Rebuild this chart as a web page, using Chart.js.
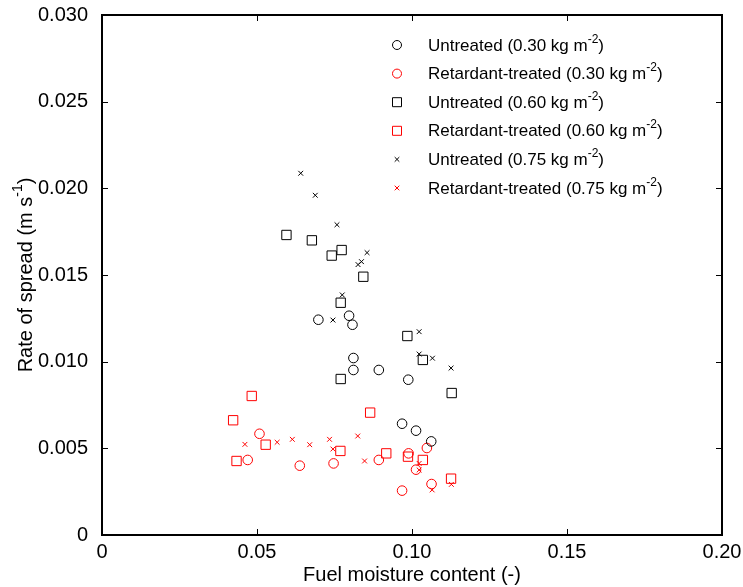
<!DOCTYPE html>
<html>
<head>
<meta charset="utf-8">
<script src="https://cdn.jsdelivr.net/npm/chart.js@4.4.1/dist/chart.umd.min.js"></script>
<style>
  body { margin: 0; background: #fff; }
  #wrap { width: 743px; height: 587px; }
</style>
</head>
<body>
<div id="wrap"><canvas id="chart" width="743" height="587"></canvas></div>
<script>
const seriesNames = [
    'Untreated (0.30 kg m^-2)',
    'Retardant-treated (0.30 kg m^-2)',
    'Untreated (0.60 kg m^-2)',
    'Retardant-treated (0.60 kg m^-2)',
    'Untreated (0.75 kg m^-2)',
    'Retardant-treated (0.75 kg m^-2)'
];
const xTitle = 'Fuel moisture content (-)';
const yTitle = 'Rate of spread (m s^-1)';
const xTicks = [0, 0.05, 0.10, 0.15, 0.20];
const yTicks = [0, 0.005, 0.010, 0.015, 0.020, 0.025, 0.030];

// moisture content (x) and rate of spread (y)
const untreated30X = [0.0698, 0.0797, 0.0808, 0.0811, 0.0811, 0.0893, 0.0988, 0.0968, 0.1013, 0.1062];
const untreated30Y = [0.01242, 0.01265, 0.01213, 0.01021, 0.00952, 0.00952, 0.00896, 0.00642, 0.00602, 0.00540];

const retardant30X = [0.0638, 0.0747, 0.0893, 0.0989, 0.1048, 0.1013, 0.1063, 0.0968, 0.0508, 0.0470];
const retardant30Y = [0.00400, 0.00413, 0.00433, 0.00471, 0.00502, 0.00377, 0.00294, 0.00256, 0.00584, 0.00433];

const untreated60X = [0.0595, 0.0677, 0.0741, 0.0773, 0.0843, 0.0770, 0.0985, 0.1035, 0.0770, 0.1128];
const untreated60Y = [0.01731, 0.01700, 0.01612, 0.01644, 0.01490, 0.01340, 0.01148, 0.01010, 0.00900, 0.00819];

const retardant60X = [0.0483, 0.0423, 0.0528, 0.0434, 0.0865, 0.0769, 0.0917, 0.0987, 0.1035, 0.1126];
const retardant60Y = [0.00802, 0.00662, 0.00521, 0.00427, 0.00706, 0.00485, 0.00471, 0.00452, 0.00433, 0.00325];

const untreated75X = [0.0641, 0.0688, 0.0758, 0.0855, 0.0837, 0.0826, 0.0775, 0.0745, 0.1023, 0.1023, 0.1066, 0.1126];
const untreated75Y = [0.02087, 0.01960, 0.01790, 0.01629, 0.01577, 0.01560, 0.01385, 0.01240, 0.01173, 0.01044, 0.01020, 0.00963];

const retardant75X = [0.0461, 0.0565, 0.0614, 0.0670, 0.0734, 0.0745, 0.0825, 0.0847, 0.1023, 0.1023, 0.1065, 0.1127];
const retardant75Y = [0.00523, 0.00535, 0.00552, 0.00521, 0.00552, 0.00496, 0.00571, 0.00427, 0.00413, 0.00375, 0.00260, 0.00292];

const FONT = '"Liberation Sans", Arial, sans-serif';

function pts(xs, ys) {
    return xs.map((x, i) => ({ x: x, y: ys[i] }));
}

function makeSet(i, xs, ys, color, style, radius) {
    return {
        label: seriesNames[i],
        data: pts(xs, ys),
        pointStyle: style,
        pointRadius: radius,
        pointHoverRadius: radius,
        pointBorderColor: color,
        pointBackgroundColor: 'rgba(0,0,0,0)',
        pointBorderWidth: 1,
        showLine: false
    };
}

// text with "^-2" style superscripts
function richParts(text) {
    const parts = [];
    const re = /\^(-?\d+)/g;
    let last = 0, m;
    while ((m = re.exec(text)) !== null) {
        parts.push({ t: text.slice(last, m.index), sup: false });
        parts.push({ t: m[1], sup: true });
        last = re.lastIndex;
    }
    parts.push({ t: text.slice(last), sup: false });
    return parts;
}

function richWidth(ctx, text, size) {
    let w = 0;
    richParts(text).forEach(p => {
        ctx.font = (p.sup ? Math.round(size * 0.7) : size) + 'px ' + FONT;
        w += ctx.measureText(p.t).width;
    });
    return w;
}

function drawRich(ctx, text, x, y, size) {
    ctx.textAlign = 'left';
    ctx.textBaseline = 'middle';
    richParts(text).forEach(p => {
        ctx.font = (p.sup ? Math.round(size * 0.7) : size) + 'px ' + FONT;
        ctx.fillText(p.t, x, p.sup ? y - size * 0.4 : y);
        x += ctx.measureText(p.t).width;
    });
}

const decorations = {
    id: 'decorations',
    afterDraw(chart) {
        const { ctx, chartArea: a, scales } = chart;
        ctx.save();
        ctx.strokeStyle = '#000';
        ctx.lineWidth = 1;
        xTicks.forEach(v => {
            const px = Math.round(scales.x.getPixelForValue(v)) + 0.5;
            ctx.beginPath();
            ctx.moveTo(px, a.bottom); ctx.lineTo(px, a.bottom - 6);
            ctx.moveTo(px, a.top); ctx.lineTo(px, a.top + 6);
            ctx.stroke();
        });
        yTicks.forEach(v => {
            const py = Math.round(scales.y.getPixelForValue(v)) + 0.5;
            ctx.beginPath();
            ctx.moveTo(a.left, py); ctx.lineTo(a.left + 6, py);
            ctx.moveTo(a.right, py); ctx.lineTo(a.right - 6, py);
            ctx.stroke();
        });
        ctx.lineWidth = 2;
        ctx.strokeRect(a.left, a.top, a.right - a.left, a.bottom - a.top);

        // axis titles
        ctx.fillStyle = '#000';
        ctx.font = '20px ' + FONT;
        ctx.textAlign = 'center';
        ctx.textBaseline = 'middle';
        ctx.fillText(xTitle, (a.left + a.right) / 2, 575);

        ctx.save();
        ctx.translate(26, (a.top + a.bottom) / 2);
        ctx.rotate(-Math.PI / 2);
        const w = richWidth(ctx, yTitle, 20);
        drawRich(ctx, yTitle, -w / 2, 0, 20);
        ctx.restore();

        // legend
        chart.data.datasets.forEach((ds, i) => {
            const y = 45 + i * 28.6;
            const mx = 397;
            ctx.strokeStyle = ds.pointBorderColor;
            ctx.lineWidth = 1;
            ctx.beginPath();
            if (ds.pointStyle === 'circle') {
                ctx.arc(mx, y, 4.5, 0, Math.PI * 2);
            } else if (ds.pointStyle === 'rect') {
                ctx.rect(mx - 4.5, y - 4.5, 9, 9);
            } else {
                ctx.moveTo(mx - 2.3, y - 2.3); ctx.lineTo(mx + 2.3, y + 2.3);
                ctx.moveTo(mx + 2.3, y - 2.3); ctx.lineTo(mx - 2.3, y + 2.3);
            }
            ctx.stroke();
            ctx.fillStyle = '#000';
            drawRich(ctx, ds.label, 428, y + 1, 17);
        });
        ctx.restore();
    }
};

const chart = new Chart(document.getElementById('chart'), {
    type: 'scatter',
    data: {
        datasets: [
            makeSet(0, untreated30X, untreated30Y, '#000000', 'circle', 4.8),
            makeSet(1, retardant30X, retardant30Y, '#ff0000', 'circle', 4.8),
            makeSet(2, untreated60X, untreated60Y, '#000000', 'rect', 6.6),
            makeSet(3, retardant60X, retardant60Y, '#ff0000', 'rect', 6.6),
            makeSet(4, untreated75X, untreated75Y, '#000000', 'crossRot', 3.4),
            makeSet(5, retardant75X, retardant75Y, '#ff0000', 'crossRot', 3.4)
        ]
    },
    options: {
        responsive: false,
        animation: false,
        layout: { padding: { left: 0, top: 15, right: 21, bottom: 0 } },
        plugins: {
            legend: { display: false },
            tooltip: { enabled: false }
        },
        scales: {
            x: {
                type: 'linear',
                min: 0,
                max: 0.2,
                afterFit(scale) {
                    scale.height = 52;
                    scale.paddingLeft = 0;
                    scale.paddingRight = 0;
                },
                afterBuildTicks(scale) { scale.ticks = xTicks.map(v => ({ value: v })); },
                grid: { display: false },
                border: { display: false },
                ticks: {
                    color: '#000',
                    padding: -3,
                    maxRotation: 0,
                    font: { family: FONT, size: 20 },
                    callback: v => v === 0 ? '0' : v.toFixed(2)
                }
            },
            y: {
                type: 'linear',
                min: 0,
                max: 0.03,
                afterFit(scale) {
                    scale.width = 102;
                    scale.paddingTop = 0;
                    scale.paddingBottom = 0;
                },
                afterBuildTicks(scale) { scale.ticks = yTicks.map(v => ({ value: v })); },
                grid: { display: false },
                border: { display: false },
                ticks: {
                    color: '#000',
                    padding: 6,
                    font: { family: FONT, size: 20 },
                    callback: v => v === 0 ? '0' : v.toFixed(3)
                }
            }
        }
    },
    plugins: [decorations]
});
</script>
</body>
</html>
